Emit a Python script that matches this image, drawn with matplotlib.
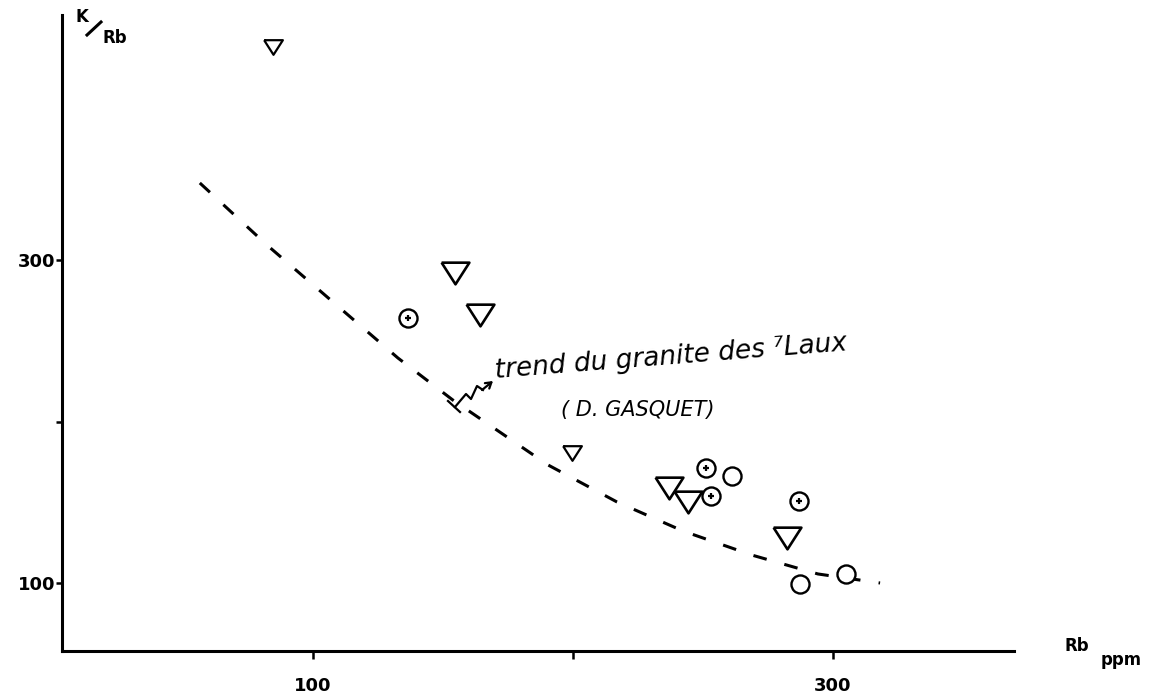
"""
K/Rb vs Rb (ppm) diagram with the trend of the 7 Laux granite (D. Gasquet).
Output: out.png
"""

import matplotlib
matplotlib.use("Agg")
import matplotlib.pyplot as plt

# ── data ─────────────────────────────────────────────────────────
TRI_BIG_RB = [154.6, 164.2, 236.9, 244.2, 282.3]
TRI_BIG_KRB = [292.0, 265.9, 158.8, 150.2, 127.9]

TRI_SMALL_RB = [84.6, 199.6]
TRI_SMALL_KRB = [431.9, 180.5]

CPLUS_RB = [136.5, 251.2, 253.1, 286.9]
CPLUS_KRB = [264.1, 171.2, 153.9, 150.8]

CIRC_RB = [261.2, 287.3, 305.0]
CIRC_KRB = [166.3, 99.4, 105.6]

TREND_RB = [56.5, 82.3, 107.7, 132.7, 153.8, 190.4, 216.9, 242.3, 268.8, 294.2, 318.1]
TREND_KRB = [347.7, 309.3, 274.0, 239.3, 213.3, 173.1, 150.2, 132.2, 117.3, 105.6, 100.0]

X_TICKS = [100, 200, 300]
X_LABELS = ["100", "", "300"]
Y_TICKS = [100, 200, 300]
Y_LABELS = ["100", "", "300"]

INK = "black"
TRI = [(-1, 0.78), (1, 0.78), (0, -0.78), (-1, 0.78)]
W, H = 1153, 697


def px(x, y):
    """pixel position (from top-left) -> figure fraction"""
    return x / W, 1 - y / H


fig = plt.figure(figsize=(W / 100, H / 100), dpi=100)
ax = fig.add_axes([62 / W, 1 - 651 / H, (1014 - 62) / W, (651 - 15) / H])
ax.set_xlim(3.5, 369.6)
ax.set_ylim(57.9, 451.7)

for side in ("top", "right"):
    ax.spines[side].set_visible(False)
for side in ("left", "bottom"):
    ax.spines[side].set_linewidth(2.2)

ax.set_xticks(X_TICKS)
ax.set_xticklabels(X_LABELS, fontsize=13, fontweight="bold")
ax.set_yticks(Y_TICKS)
ax.set_yticklabels(Y_LABELS, fontsize=13, fontweight="bold")
ax.tick_params(axis="x", direction="out", length=6, width=1.8, pad=13)
ax.tick_params(axis="y", direction="out", length=4, width=1.8, pad=1)

# trend curve
ax.plot(TREND_RB, TREND_KRB, color=INK, lw=2.2, dashes=(4.5, 6))

# samples
ax.plot(TRI_BIG_RB, TRI_BIG_KRB, ls="none", marker=TRI, ms=20,
        mfc="white", mec=INK, mew=1.9, zorder=4)
ax.plot(TRI_SMALL_RB, TRI_SMALL_KRB, ls="none", marker=TRI, ms=13.5,
        mfc="white", mec=INK, mew=1.6, zorder=4)
ax.plot(CIRC_RB, CIRC_KRB, ls="none", marker="o", ms=13,
        mfc="white", mec=INK, mew=1.7, zorder=4)
ax.plot(CPLUS_RB, CPLUS_KRB, ls="none", marker="o", ms=13,
        mfc="white", mec=INK, mew=1.7, zorder=4)
ax.plot(CPLUS_RB, CPLUS_KRB, ls="none", marker="+", ms=5,
        mec=INK, mew=1.6, zorder=5)

# handwritten annotation: squiggly arrow from the curve to the label
zig = [(455, 407), (466, 394), (471, 399), (477, 386), (483, 390)]
fig.add_artist(plt.Line2D([px(*p)[0] for p in zig], [px(*p)[1] for p in zig],
                          transform=fig.transFigure, color=INK, lw=1.6))
tick = [(448, 401), (460, 412)]
fig.add_artist(plt.Line2D([px(*p)[0] for p in tick], [px(*p)[1] for p in tick],
                          transform=fig.transFigure, color=INK, lw=1.6))
ax.annotate("", xy=px(493, 381), xycoords="figure fraction",
            xytext=px(482, 390), textcoords="figure fraction",
            arrowprops=dict(arrowstyle="->,head_length=0.4,head_width=0.25",
                            lw=1.6, color=INK, shrinkA=0, shrinkB=0))

fig.text(*px(496, 378), "trend du granite des \u2077Laux",
         fontsize=19, fontstyle="italic", rotation=4.5, ha="left", va="baseline",
         rotation_mode="anchor", fontstretch="expanded")
fig.text(*px(638, 410), "( D. GASQUET)",
         fontsize=15, fontstyle="italic", ha="center", va="center")

# axis titles
fig.text(*px(82, 17), "K", fontsize=12, fontweight="bold", ha="center", va="center")
fig.add_artist(plt.Line2D([87 / W, 101 / W], [1 - 35 / H, 1 - 22 / H],
                          transform=fig.transFigure, color=INK, lw=2.2))
fig.text(*px(115, 38), "Rb", fontsize=12, fontweight="bold", ha="center", va="center")
fig.text(*px(1077, 646), "Rb", fontsize=12, fontweight="bold", ha="center", va="center")
fig.text(*px(1121, 660), "ppm", fontsize=12, fontweight="bold", ha="center", va="center")

fig.savefig("out.png", dpi=100)
